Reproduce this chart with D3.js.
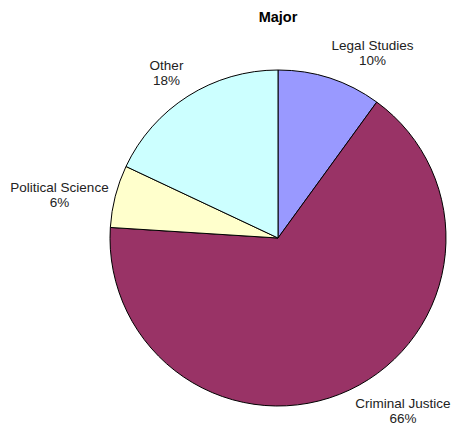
<!DOCTYPE html>
<html>
<head>
<meta charset="utf-8">
<script src="https://cdn.jsdelivr.net/npm/d3@7"></script>
<style>
  html, body { margin: 0; padding: 0; background: #fff; }
  svg { display: block; }
  text { font-family: "Liberation Sans", Arial, sans-serif; }
</style>
</head>
<body>
<svg id="chart" width="451" height="426"></svg>
<script>
// Share of students by major (percent)
const majors = ["Legal Studies", "Criminal Justice", "Political Science", "Other"];
const shares = [10, 66, 6, 18];
const colors = ["#9999FF", "#993366", "#FFFFCC", "#CCFFFF"];
// Label anchor points (x, baseline y of first line) for each slice's callout
const labelX = [372.5, 403, 59.5, 166.5];
const labelY = [50, 408, 192, 70];

const svg = d3.select("#chart");
const cx = 278, cy = 238, r = 168;

svg.append("text")
  .attr("x", 278).attr("y", 22)
  .attr("text-anchor", "middle")
  .attr("font-size", 14.5).attr("font-weight", "bold")
  .attr("fill", "#000")
  .text("Major");

const pie = d3.pie().sort(null).value(d => d)(shares);
const arc = d3.arc().innerRadius(0).outerRadius(r);

const g = svg.append("g").attr("transform", `translate(${cx},${cy})`);
g.selectAll("path")
  .data(pie)
  .join("path")
  .attr("d", arc)
  .attr("fill", (d, i) => colors[i])
  .attr("stroke", "#000")
  .attr("stroke-width", 1)
  .attr("stroke-linejoin", "round");

const labels = svg.selectAll("g.lbl")
  .data(pie)
  .join("g")
  .attr("class", "lbl");

labels.append("text")
  .attr("x", (d, i) => labelX[i])
  .attr("y", (d, i) => labelY[i])
  .attr("text-anchor", "middle")
  .attr("font-size", 13.5)
  .attr("fill", "#222")
  .text((d, i) => majors[i]);

labels.append("text")
  .attr("x", (d, i) => labelX[i])
  .attr("y", (d, i) => labelY[i] + 15)
  .attr("text-anchor", "middle")
  .attr("font-size", 13.5)
  .attr("fill", "#222")
  .text(d => d.data + "%");
</script>
</body>
</html>
